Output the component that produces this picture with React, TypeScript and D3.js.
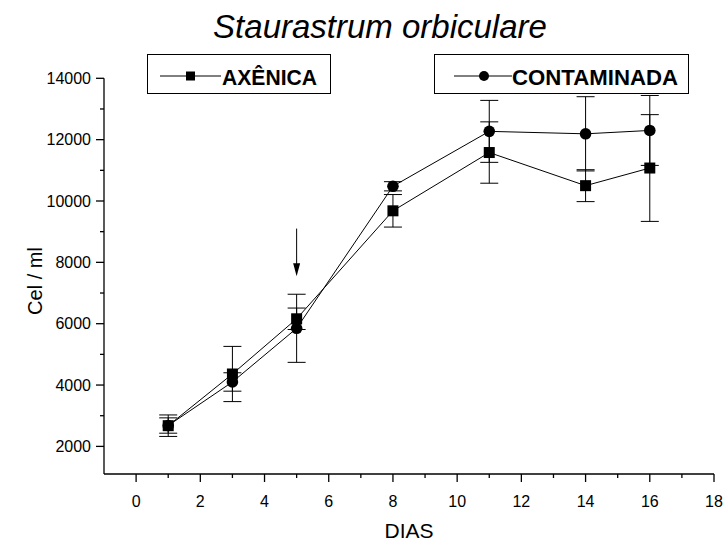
import React from "react";
import { scaleLinear, line } from "d3";

// dias de cultivo
const days = [1, 3, 5, 8, 11, 14, 16];
// cultura axênica (quadrados)
const axenica = [2675, 4360, 6160, 9680, 11580, 10500, 11075];
const axenicaErr = [350, 900, 350, 530, 1000, 520, 1740];
// cultura contaminada (círculos)
const contaminada = [2680, 4100, 5850, 10480, 12270, 12190, 12300];
const contaminadaErr = [250, 300, 1110, 150, 1010, 1210, 1140];

const xMajor = [0, 2, 4, 6, 8, 10, 12, 14, 16, 18];
const xMinor = [1, 3, 5, 7, 9, 11, 13, 15, 17];
const yMajor = [2000, 4000, 6000, 8000, 10000, 12000, 14000];
const yMinor = [3000, 5000, 7000, 9000, 11000, 13000];

// seta indicando o dia 5
const arrowDay = 5;
const arrowFrom = 9100;
const arrowTo = 7550;

const title = "Staurastrum orbiculare";
const xTitle = "DIAS";
const yTitle = "Cel / ml";

const W = 725;
const H = 545;
const font = "Arial, 'Liberation Sans', sans-serif";

export default function App() {
  const x = scaleLinear().domain([-1, 18]).range([104, 714]);
  const y = scaleLinear().domain([1100, 14000]).range([474, 78.3]);

  const pts = (vals: number[]) => days.map((d, i) => [d, vals[i]] as [number, number]);
  const path = line<[number, number]>()
    .x(d => x(d[0]))
    .y(d => y(d[1]));

  const errBars = (vals: number[], errs: number[], key: string) =>
    days.map((d, i) => {
      const cx = x(d);
      const top = y(vals[i] + errs[i]);
      const bot = y(vals[i] - errs[i]);
      return (
        <g key={key + i} stroke="#000" strokeWidth={1}>
          <line x1={cx} x2={cx} y1={top} y2={bot} />
          <line x1={cx - 9} x2={cx + 9} y1={top} y2={top} />
          <line x1={cx - 9} x2={cx + 9} y1={bot} y2={bot} />
        </g>
      );
    });

  const ax = x(arrowDay);
  const a0 = y(arrowFrom);
  const a1 = y(arrowTo);

  return (
    <svg width={W} height={H} style={{ position: "absolute", left: 0, top: 0, background: "#fff" }}>
      <text x={380} y={38} textAnchor="middle" fontFamily={font} fontStyle="italic" fontSize={33}>
        {title}
      </text>

      {/* legenda */}
      <g>
        <rect x={147.5} y={54.5} width={183} height={39} fill="#fff" stroke="#000" strokeWidth={1} />
        <line x1={160} x2={221} y1={76} y2={76} stroke="#000" />
        <rect x={186} y={71.5} width={9} height={9} fill="#000" />
        <text x={222} y={85} fontFamily={font} fontWeight="bold" fontSize={22} textLength={95} lengthAdjust="spacingAndGlyphs">
          AXÊNICA
        </text>

        <rect x={434.5} y={54.5} width={254} height={39} fill="#fff" stroke="#000" strokeWidth={1} />
        <line x1={454} x2={512} y1={76} y2={76} stroke="#000" />
        <circle cx={484} cy={76} r={5} fill="#000" />
        <text x={512} y={85} fontFamily={font} fontWeight="bold" fontSize={22} textLength={166} lengthAdjust="spacingAndGlyphs">
          CONTAMINADA
        </text>
      </g>

      {/* eixos */}
      <g stroke="#000" strokeWidth={1.3}>
        <line x1={x(-1)} x2={x(18)} y1={y(1100)} y2={y(1100)} />
        <line x1={x(-1)} x2={x(-1)} y1={y(1100)} y2={y(14000)} />
        {xMajor.map(v => (
          <line key={"xM" + v} x1={x(v)} x2={x(v)} y1={y(1100)} y2={y(1100) + 8} />
        ))}
        {xMinor.map(v => (
          <line key={"xm" + v} x1={x(v)} x2={x(v)} y1={y(1100)} y2={y(1100) + 4} />
        ))}
        {yMajor.map(v => (
          <line key={"yM" + v} x1={x(-1) - 8} x2={x(-1)} y1={y(v)} y2={y(v)} />
        ))}
        {yMinor.map(v => (
          <line key={"ym" + v} x1={x(-1) - 4} x2={x(-1)} y1={y(v)} y2={y(v)} />
        ))}
      </g>
      {xMajor.map(v => (
        <text key={"xl" + v} x={x(v)} y={506.5} textAnchor="middle" fontFamily={font} fontSize={16}>
          {v}
        </text>
      ))}
      {yMajor.map(v => (
        <text key={"yl" + v} x={x(-1) - 13} y={y(v) + 5.7} textAnchor="end" fontFamily={font} fontSize={16}>
          {v}
        </text>
      ))}
      <text x={409} y={538} textAnchor="middle" fontFamily={font} fontSize={21}>{xTitle}</text>
      <text transform={`translate(42,${281}) rotate(-90)`} textAnchor="middle" fontFamily={font} fontSize={20}>
        {yTitle}
      </text>

      {/* séries */}
      <path d={path(pts(axenica)) || ""} fill="none" stroke="#000" strokeWidth={1} />
      <path d={path(pts(contaminada)) || ""} fill="none" stroke="#000" strokeWidth={1} />
      {errBars(axenica, axenicaErr, "ea")}
      {errBars(contaminada, contaminadaErr, "ec")}
      {days.map((d, i) => (
        <rect key={"s" + i} x={x(d) - 5.5} y={y(axenica[i]) - 5.5} width={11} height={11} fill="#000" />
      ))}
      {days.map((d, i) => (
        <circle key={"c" + i} cx={x(d)} cy={y(contaminada[i])} r={5.8} fill="#000" />
      ))}

      {/* seta */}
      <line x1={ax} x2={ax} y1={a0} y2={a1 - 12} stroke="#000" strokeWidth={1} />
      <path d={`M${ax - 3.5},${a1 - 13} L${ax + 3.5},${a1 - 13} L${ax},${a1} Z`} fill="#000" />
    </svg>
  );
}
